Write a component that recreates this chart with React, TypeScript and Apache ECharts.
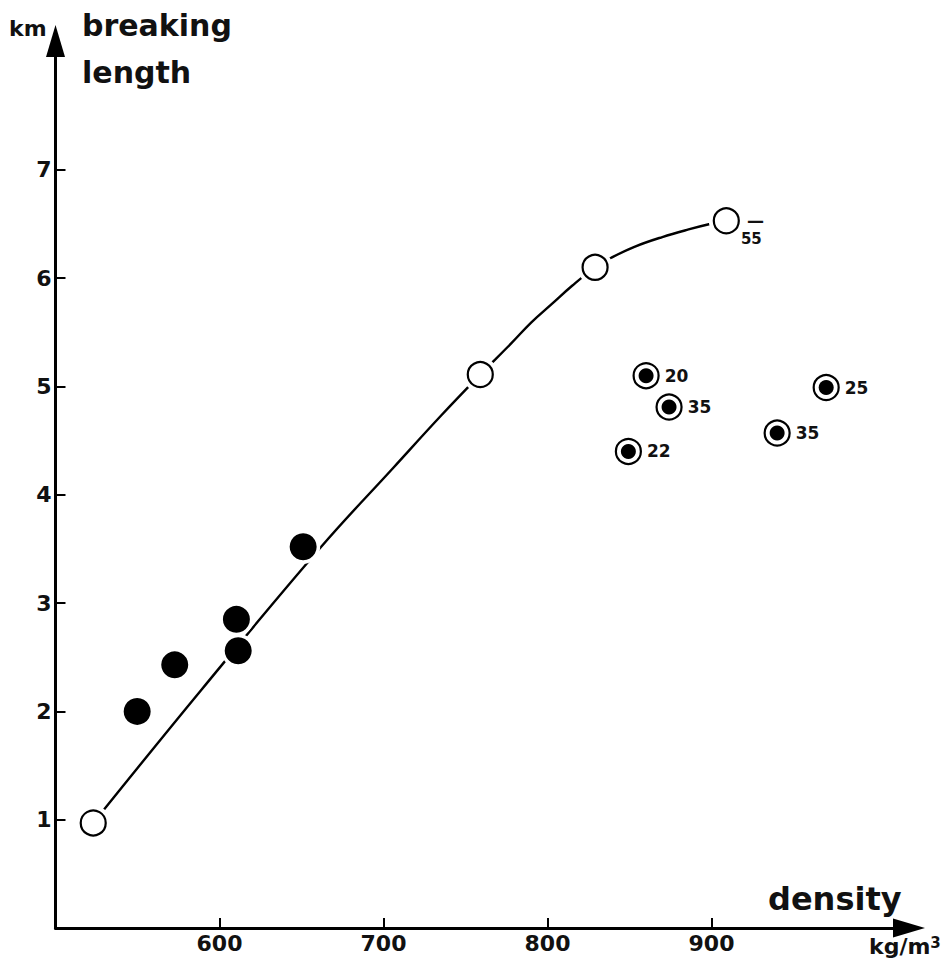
import React, { useEffect, useRef } from "react";
import * as echarts from "echarts";

// ---- data ----
const openDensity = [523, 759, 829, 909];
const openLength = [0.97, 5.11, 6.1, 6.53];
const openLabels = ["", "", "", "55"];

const solidDensity = [549.8, 572.7, 610.3, 611.4, 651.0];
const solidLength = [2.0, 2.43, 2.85, 2.56, 3.52];

const ringDensity = [860.1, 874.1, 849.3, 969.9, 940.0];
const ringLength = [5.1, 4.81, 4.4, 4.99, 4.57];
const ringLabels = ["20", "35", "22", "25", "35"];

// points
const curveDensity = [523, 589, 662, 706, 735, 759, 778, 790, 802.5, 815, 829, 839, 853, 870, 886, 899, 909];
const curveLength = [0.97, 2.2, 3.52, 4.25, 4.73, 5.11, 5.4, 5.59, 5.76, 5.93, 6.1, 6.19, 6.29, 6.38, 6.45, 6.5, 6.53];

const xTicks = [600, 700, 800, 900];
const yTicks = [1, 2, 3, 4, 5, 6, 7];

const FONT = "'DejaVu Sans', sans-serif";
const INK = "#111";

export default function App() {
  const ref = useRef<HTMLDivElement>(null);

  useEffect(() => {
    if (!ref.current) return;
    const chart = echarts.init(ref.current, undefined, { renderer: "svg" });

    const pairs = (xs: number[], ys: number[]) => xs.map((x, i) => [x, ys[i]]);

    const openData = openDensity.map((x, i) => {
      const item: any = { value: [x, openLength[i]] };
      if (openLabels[i]) {
        item.label = {
          show: true,
          position: "right",
          distance: 1,
          offset: [0, 9],
          formatter: "{d|—}\n{n|" + openLabels[i] + "}",
          rich: {
            d: { fontSize: 17, lineHeight: 18, fontFamily: FONT, fontWeight: "bold", color: INK, padding: [0, 0, 0, 6] },
            n: { fontSize: 15, lineHeight: 18, fontFamily: FONT, fontWeight: "bold", color: INK },
          },
        };
      }
      return item;
    });

    const axisCommon = (ticks: number[]) => ({
      splitLine: { show: false },
      axisLine: {
        show: true,
        lineStyle: { color: "#000", width: 3 },
        symbol: ["none", "triangle"],
        symbolSize: [19, 32],
      },
      axisTick: {
        show: true,
        inside: true,
        length: 10,
        lineStyle: { color: "#000", width: 2 },
        customValues: ticks,
      },
      axisLabel: {
        show: true,
        customValues: ticks,
        margin: 4,
        fontSize: 22,
        fontWeight: "bold",
        fontFamily: FONT,
        color: INK,
      },
    });

    const option: any = {
      animation: false,
      grid: { left: 55.5, right: 43, top: 41, bottom: 48, containLabel: false },
      xAxis: { type: "value", min: 500, max: 1020.4, ...axisCommon(xTicks) },
      yAxis: { type: "value", min: 0, max: 8.19, ...axisCommon(yTicks) },
      series: [
        {
          type: "line",
          z: 2,
          data: pairs(curveDensity, curveLength),
          smooth: 0.4,
          symbol: "none",
          lineStyle: { color: "#000", width: 2.4 },
          silent: true,
        },
        {
          type: "scatter",
          z: 3,
          silent: true,
          symbolSize: 35,
          itemStyle: { color: "#fff", opacity: 1 },
          data: pairs(openDensity, openLength),
        },
        {
          type: "scatter",
          z: 3,
          silent: true,
          symbolSize: 34,
          itemStyle: { color: "#fff", opacity: 1 },
          data: pairs(solidDensity, solidLength),
        },
        {
          type: "scatter",
          z: 4,
          symbolSize: 25,
          itemStyle: { color: "#fff", borderColor: "#000", borderWidth: 2.2, opacity: 1 },
          data: openData,
        },
        {
          type: "scatter",
          z: 4,
          symbolSize: 27,
          itemStyle: { color: "#000", opacity: 1 },
          data: pairs(solidDensity, solidLength),
        },
        {
          type: "scatter",
          z: 4,
          symbolSize: 25,
          itemStyle: { color: "#fff", borderColor: "#000", borderWidth: 2.2, opacity: 1 },
          data: pairs(ringDensity, ringLength),
          label: {
            show: true,
            position: "right",
            distance: 5,
            formatter: (p: any) => ringLabels[p.dataIndex],
            fontSize: 17,
            fontWeight: "bold",
            fontFamily: FONT,
            color: INK,
          },
        },
        {
          type: "scatter",
          z: 5,
          symbolSize: 15,
          itemStyle: { color: "#000", opacity: 1 },
          data: pairs(ringDensity, ringLength),
        },
      ],
      graphic: [
        {
          type: "text",
          x: 9,
          y: 28,
          style: {
            text: "km",
            fontSize: 22,
            fontWeight: "bold",
            fontFamily: FONT,
            fill: INK,
            align: "left",
            verticalAlign: "middle",
          },
        },
        {
          type: "text",
          x: 82,
          y: 1.5,
          style: {
            text: "breaking\nlength",
            fontSize: 30,
            lineHeight: 47,
            fontWeight: "bold",
            fontFamily: FONT,
            fill: INK,
            align: "left",
            verticalAlign: "top",
          },
        },
        {
          type: "text",
          x: 768,
          y: 899,
          style: {
            text: "density",
            fontSize: 32,
            fontWeight: "bold",
            fontFamily: FONT,
            fill: INK,
            align: "left",
            verticalAlign: "middle",
          },
        },
        {
          type: "text",
          x: 869,
          y: 935,
          style: {
            text: "{a|kg}{b|/m}{c|3}",
            align: "left",
            verticalAlign: "top",
            fill: INK,
            rich: {
              a: { fontSize: 22, lineHeight: 24, fontWeight: "bold", fontFamily: FONT, fill: INK, verticalAlign: "top" },
              b: { fontSize: 22, lineHeight: 54, fontWeight: "bold", fontFamily: FONT, fill: INK, verticalAlign: "top" },
              c: { fontSize: 15, lineHeight: 42, fontWeight: "bold", fontFamily: FONT, fill: INK, verticalAlign: "top" },
            },
          },
        },
      ],
    };

    chart.setOption(option);
    return () => chart.dispose();
  }, []);

  return (
    <div
      ref={ref}
      style={{ position: "fixed", left: 0, top: 0, width: 952, height: 976, background: "#fff" }}
    />
  );
}
